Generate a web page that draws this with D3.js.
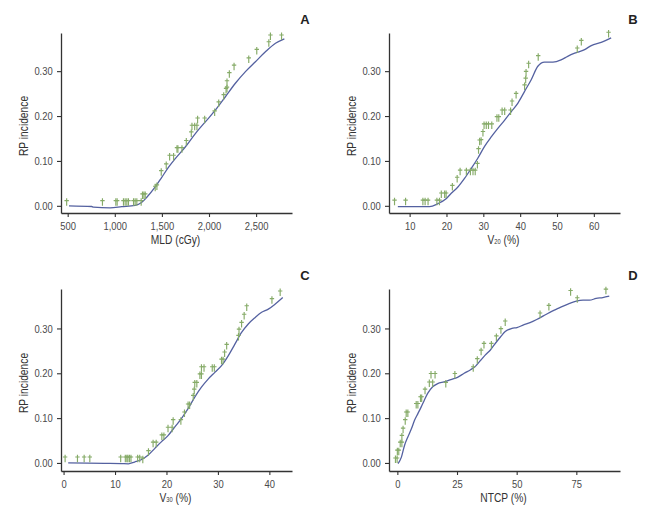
<!DOCTYPE html>
<html><head><meta charset="utf-8">
<script src="https://cdn.jsdelivr.net/npm/d3@7"></script>
<style>
body{margin:0;background:#fff;}
svg{display:block;}
text{font-family:"Liberation Sans Narrow","Arial Narrow","Liberation Sans",Arial,sans-serif;}
</style></head><body>
<svg id="chart" width="658" height="509"></svg>
<script>
// ---------- Data ----------
const yTicks = [0, 0.1, 0.2, 0.3];

// Panel A: MLD (cGy)
const aLineX = [514,755,773,950,1074,1216,1287,1340,1429,1500,1571,1642,1748,1855,1961,2067,2174,2280,2387,2493,2599,2706,2800];
const aLineY = [0,-0.0015,-0.003,-0.0045,-0.002,0.001,0.008,0.019,0.042,0.064,0.086,0.105,0.131,0.161,0.187,0.213,0.243,0.273,0.299,0.321,0.343,0.362,0.372];
const aMarkX = [489,869,1011,1025,1092,1110,1128,1145,1199,1216,1234,1280,1294,1309,1323,1429,1447,1493,1546,1582,1624,1660,1670,1713,1759,1812,1819,1848,1872,1879,1954,2060,2103,2156,2181,2191,2191,2216,2266,2422,2507,2635,2652,2770];
const aMarkY = [0.008,0.008,0.008,0.008,0.008,0.008,0.008,0.008,0.008,0.008,0.008,0.008,0.023,0.023,0.023,0.040,0.043,0.075,0.090,0.109,0.109,0.126,0.126,0.126,0.142,0.161,0.176,0.176,0.176,0.192,0.192,0.208,0.228,0.244,0.258,0.261,0.275,0.293,0.310,0.326,0.345,0.362,0.377,0.377];
const aXTicks = [500,1000,1500,2000,2500];

// Panel B: V20 (%)
const bLineX = [6.8,15.4,17.7,19.9,21.3,23.1,24.9,26.7,28.5,30.3,32.2,34.0,35.8,37.6,39.4,41.2,43.0,44.8,46.6,48.9,51.1,52.9,54.8,57.5,59.3,62.0,64.7];
const bLineY = [-0.002,-0.002,0.005,0.016,0.028,0.042,0.061,0.083,0.106,0.132,0.154,0.173,0.191,0.210,0.229,0.255,0.281,0.311,0.320,0.320,0.325,0.333,0.340,0.348,0.357,0.364,0.374];
const bMarkX = [5.9,8.9,13.6,14.2,15.0,17.4,18.1,18.6,19.5,19.9,21.6,22.9,23.7,25.4,26.5,27.2,27.8,28.4,28.7,29.0,29.4,29.9,30.2,30.8,31.4,32.3,33.7,34.2,35.1,35.8,37.4,37.8,38.9,41.2,41.5,41.6,42.3,44.9,55.5,56.6,64.0];
const bMarkY = [0.009,0.009,0.009,0.009,0.009,0.009,0.009,0.025,0.025,0.025,0.042,0.060,0.076,0.076,0.076,0.076,0.076,0.091,0.124,0.143,0.144,0.162,0.179,0.179,0.179,0.179,0.195,0.195,0.210,0.210,0.210,0.230,0.247,0.266,0.281,0.296,0.314,0.331,0.348,0.365,0.383];
const bXTicks = [10,20,30,40,50,60];

// Panel C: V30 (%)
const cLineX = [0.9,7.9,11.2,12.6,13.8,15.1,16.4,17.7,19.0,20.3,21.6,22.9,24.2,25.5,26.8,28.1,29.4,30.7,32.0,33.3,34.6,35.9,37.2,38.5,39.8,41.1,42.6];
const cLineY = [0,-0.001,-0.0015,-0.002,0.002,0.007,0.017,0.032,0.047,0.061,0.080,0.099,0.121,0.147,0.169,0.187,0.202,0.217,0.239,0.265,0.291,0.310,0.324,0.336,0.343,0.354,0.369];
const cMarkX = [0.3,2.7,4.0,5.1,11.1,12.0,12.3,12.5,12.8,13.1,14.4,14.8,15.4,16.5,17.4,18.0,19.1,19.5,20.3,21.1,21.3,22.8,23.5,24.2,24.5,25.2,25.4,25.5,25.9,26.5,26.8,26.8,27.3,28.9,29.3,30.7,31.0,31.3,31.7,34.0,34.1,34.6,35.1,35.6,40.5,42.1];
const cMarkY = [0.0096,0.0096,0.0096,0.0096,0.0096,0.0096,0.0096,0.0096,0.0096,0.0096,0.0096,0.0096,0.007,0.024,0.043,0.043,0.059,0.059,0.076,0.076,0.093,0.093,0.110,0.128,0.128,0.147,0.161,0.176,0.176,0.195,0.195,0.211,0.211,0.211,0.211,0.228,0.228,0.244,0.261,0.281,0.295,0.310,0.328,0.347,0.363,0.380];
const cXTicks = [0,10,20,30,40];

// Panel D: NTCP (%)
const dLineX = [0.3,1.7,3.0,4.4,5.8,7.2,8.6,10.0,11.3,12.7,14.8,16.9,19.6,22.4,25.2,28.0,30.7,32.8,34.9,36.9,39.0,41.1,43.2,45.2,48.0,50.1,52.9,55.6,58.4,61.2,63.9,66.7,69.5,72.2,75.0,77.8,80.5,83.3,86.1,88.8];
const dLineY = [-0.0015,0.013,0.039,0.058,0.075,0.095,0.110,0.125,0.140,0.155,0.170,0.177,0.181,0.186,0.191,0.200,0.208,0.216,0.229,0.241,0.252,0.267,0.281,0.293,0.300,0.302,0.308,0.313,0.320,0.328,0.336,0.343,0.350,0.356,0.361,0.363,0.363,0.367,0.369,0.372];
const dMarkX = [-0.8,-0.1,0,0.6,1.2,1.9,1.9,2.4,3.3,3.7,4.4,7.9,8.6,9.7,10.2,11.6,13.4,14.8,14.1,15.8,20.3,24.1,31.8,33.5,35.1,36.3,39.4,41.5,43.4,45.2,59.8,63.5,72.6,75.4,87.4];
const dMarkY = [0.0074,0.0074,0.025,0.025,0.043,0.043,0.058,0.074,0.093,0.110,0.110,0.129,0.129,0.144,0.144,0.161,0.177,0.177,0.196,0.196,0.176,0.196,0.211,0.229,0.248,0.263,0.263,0.280,0.296,0.313,0.331,0.348,0.381,0.365,0.384];
const dXTicks = [0,25,50,75];

// ---------- Drawing ----------
const svg = d3.select("#chart");
const lineColor = "#5461a0";
const markColor = "#86ab68";
const SX = 0.82; // horizontal condensing of text to mimic a narrow face

const panels = [
  {id:"A", left:61, right:292, top:33, bottom:213, xd:[429,2881], yd:[-0.016,0.385], lx:aLineX, ly:aLineY, mx:aMarkX, my:aMarkY, ticks:aXTicks, fmt:d3.format(","), xlab:["MLD (cGy)"]},
  {id:"B", left:389, right:620, top:33, bottom:213, xd:[4.4,67.1], yd:[-0.016,0.385], lx:bLineX, ly:bLineY, mx:bMarkX, my:bMarkY, ticks:bXTicks, fmt:d3.format("d"), xlab:["V","20"," (%)"]},
  {id:"C", left:61, right:292, top:289, bottom:471, xd:[-0.5,44.4], yd:[-0.018,0.388], lx:cLineX, ly:cLineY, mx:cMarkX, my:cMarkY, ticks:cXTicks, fmt:d3.format("d"), xlab:["V","30"," (%)"]},
  {id:"D", left:389, right:620, top:289, bottom:471, xd:[-3.5,93.3], yd:[-0.018,0.388], lx:dLineX, ly:dLineY, mx:dMarkX, my:dMarkY, ticks:dXTicks, fmt:d3.format("d"), xlab:["NTCP (%)"]}
];

panels.forEach(p => {
  const x = d3.scaleLinear().domain(p.xd).range([p.left, p.right]);
  const y = d3.scaleLinear().domain(p.yd).range([p.bottom, p.top]);
  const g = svg.append("g");

  // axes
  const xa = g.append("g").attr("transform", `translate(0,${p.bottom})`)
    .call(d3.axisBottom(x).tickValues(p.ticks).tickFormat(p.fmt).tickSize(4).tickSizeOuter(0));
  const ya = g.append("g").attr("transform", `translate(${p.left},0)`)
    .call(d3.axisLeft(y).tickValues(yTicks).tickFormat(d3.format(".2f")).tickSize(4).tickSizeOuter(0));
  [xa, ya].forEach(a => {
    a.select(".domain").attr("stroke", "#333").attr("stroke-width", 1.3);
    a.selectAll(".tick line").attr("stroke", "#333").attr("stroke-width", 1.1);
    a.selectAll(".tick text").attr("fill", "#4a4a4a").style("font-size", "11.5px")
      .attr("transform", `scale(${SX},1)`);
  });
  xa.selectAll(".tick text").attr("dy", "0.95em").attr("y", 6);
  ya.selectAll(".tick text").attr("x", -8.3 / SX);

  // line
  const pts = p.lx.map((v, i) => [v, p.ly[i]]);
  g.append("path").datum(pts)
    .attr("fill", "none").attr("stroke", lineColor).attr("stroke-width", 1.3)
    .attr("d", d3.line().x(d => x(d[0])).y(d => y(d[1])).curve(d3.curveMonotoneX));

  // dagger markers
  const marks = p.mx.map((v, i) => [v, p.my[i]]);
  g.selectAll("path.mark").data(marks).enter().append("path")
    .attr("class", "mark")
    .attr("transform", d => `translate(${x(d[0])},${y(d[1])})`)
    .attr("d", "M0,-4L0,3.5M-2.2,-1.6L2.2,-1.6")
    .attr("stroke", markColor).attr("stroke-width", 1.15).attr("fill", "none");

  // y label
  g.append("text")
    .attr("transform", `translate(${p.left - 33},${(p.top + p.bottom) / 2 + 3}) rotate(-90) scale(${SX},1)`)
    .attr("text-anchor", "middle").attr("fill", "#333").style("font-size", "12.5px")
    .text("RP incidence");

  // x label
  const xl = g.append("text")
    .attr("transform", `translate(${(p.left + p.right) / 2 - 1},${p.bottom + 31}) scale(${SX},1)`)
    .attr("text-anchor", "middle").attr("fill", "#333").style("font-size", "12.5px");
  if (p.xlab.length === 1) {
    xl.text(p.xlab[0]);
  } else {
    xl.append("tspan").text(p.xlab[0]);
    xl.append("tspan").style("font-size", "7px").text(p.xlab[1]);
    xl.append("tspan").text(p.xlab[2]);
  }

  // panel letter
  g.append("text").attr("x", p.right + 13).attr("y", p.top - 9)
    .attr("text-anchor", "middle").attr("fill", "#222")
    .style("font-size", "13px").style("font-weight", "bold")
    .style("font-family", "'Liberation Sans', Arial, sans-serif")
    .text(p.id);
});
</script>
</body></html>
